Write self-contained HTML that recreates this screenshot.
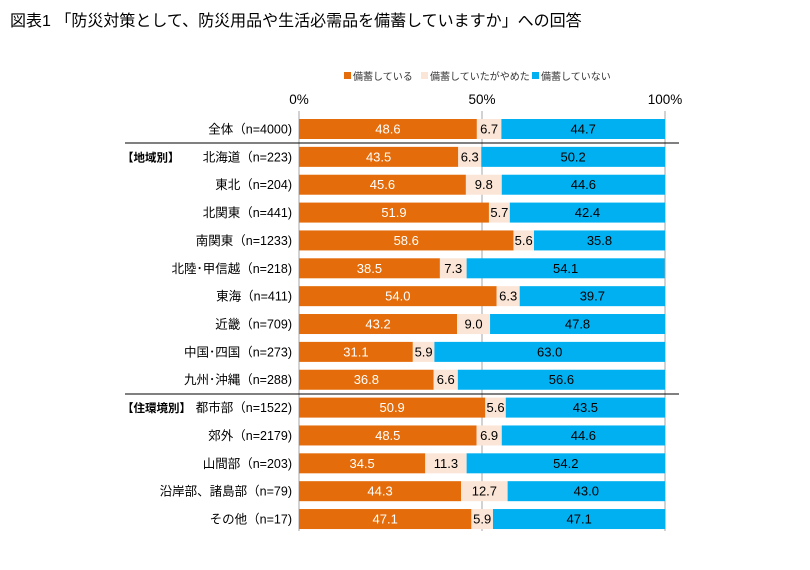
<!DOCTYPE html>
<html><head><meta charset="utf-8"><style>
body{margin:0;background:#fff;width:810px;height:565px;overflow:hidden;font-family:"Liberation Sans","Noto Sans CJK JP",sans-serif}
</style></head><body>
<svg width="810" height="565" id="svg" style="font-family:'Liberation Sans','Noto Sans CJK JP',sans-serif">
<text x="10" y="26" font-size="16" fill="#000">図表1 「防災対策として、防災用品や生活必需品を備蓄していますか」への回答</text>
<g font-size="10" fill="#333">
<rect x="344" y="72" width="7" height="7" fill="#E46C0A"/><text x="353" y="80">備蓄している</text>
<rect x="421" y="72" width="7" height="7" fill="#FBE5D6"/><text x="430" y="80">備蓄していたがやめた</text>
<rect x="532" y="72" width="7" height="7" fill="#00B0F0"/><text x="541" y="80">備蓄していない</text>
</g>
</svg>
<script>
const categories=["全体（n=4000)","北海道（n=223)","東北（n=204)","北関東（n=441)","南関東（n=1233)","北陸･甲信越（n=218)","東海（n=411)","近畿（n=709)","中国･四国（n=273)","九州･沖縄（n=288)","都市部（n=1522)","郊外（n=2179)","山間部（n=203)","沿岸部、諸島部（n=79)","その他（n=17)"];
const stocking=[48.6,43.5,45.6,51.9,58.6,38.5,54.0,43.2,31.1,36.8,50.9,48.5,34.5,44.3,47.1];
const stopped=[6.7,6.3,9.8,5.7,5.6,7.3,6.3,9.0,5.9,6.6,5.6,6.9,11.3,12.7,5.9];
const notStocking=[44.7,50.2,44.6,42.4,35.8,54.1,39.7,47.8,63.0,56.6,43.5,44.6,54.2,43.0,47.1];
const ticks=[0,50,100];
const NS="http://www.w3.org/2000/svg",svg=document.getElementById('svg');
const x0=299,x1=665;
const xs=v=>x0+(x1-x0)*v/100;
const ys=i=>129+i*27.86;
function el(t,a,p){const e=document.createElementNS(NS,t);for(const k in a)e.setAttribute(k,a[k]);(p||svg).appendChild(e);return e;}
ticks.forEach(t=>{
 const g=el('line',{x1:xs(t),x2:xs(t),y1:111,y2:531,stroke:'#a6a6a6','stroke-width':1});
 
 
 const tx=el('text',{x:xs(t),y:104,'font-size':13.5,'text-anchor':'middle'});
 tx.textContent=t+'%';
 
 
});
[143,394].forEach((y,k)=>{const l=el('line',{x1:125,x2:679,y1:y,y2:y,stroke:'#000','stroke-width':1});
 
 });
const series=[[stocking,'#E46C0A','#fff','stocking'],[stopped,'#FBE5D6','#000','stopped'],[notStocking,'#00B0F0','#000','not-stocking']];
categories.forEach((c,i)=>{
 const y=ys(i);let acc=0;
 series.forEach(([arr,col,tc,nm])=>{
  const v=arr[i];
  const r=el('rect',{x:xs(acc),y:y-10,width:xs(acc+v)-xs(acc),height:20,fill:col});
  
  
  const t=el('text',{x:(xs(acc)+xs(acc+v))/2,y:y+4.5,'font-size':13,'text-anchor':'middle',fill:tc});
  t.textContent=v.toFixed(1);
  
  
  acc+=v;
 });
 const lt=el('text',{x:292,y:y+4.5,'font-size':12.5,'text-anchor':'end'});
 lt.textContent=c;
 
 
});
[['【地域別】',1],['【住環境別】',10]].forEach(([s,i])=>{
 const t=el('text',{x:122,y:ys(i)+4.5,'font-size':11.5,'font-weight':'bold'});
 t.textContent=s;
 
 
});
</script>
</body></html>
